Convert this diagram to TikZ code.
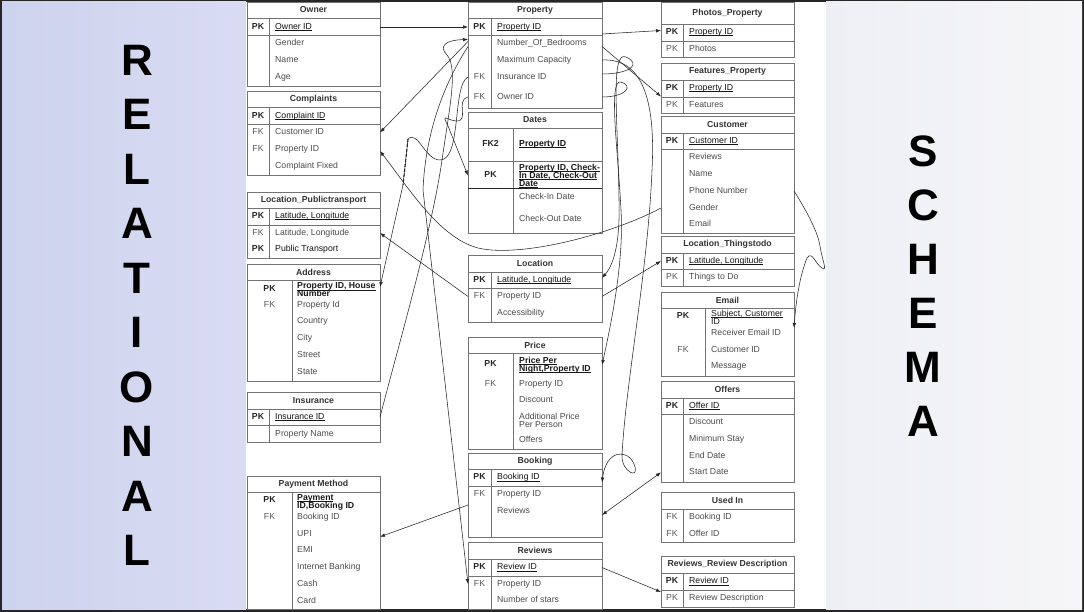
\documentclass[tikz,border=0pt]{standalone}
\usepackage{fontspec}
\setmainfont{Liberation Sans}
\usetikzlibrary{arrows.meta}
\newcommand{\tblfont}{\fontsize{8.7}{8}\selectfont\lineskiplimit=-6pt\relax}
\newcommand{\keyline}[1]{\setbox0\hbox{#1}\rlap{\rule[-1.3pt]{\wd0}{0.55pt}}\box0}
\definecolor{relleft}{HTML}{CDD2EE}
\definecolor{relright}{HTML}{D9DCF1}
\definecolor{schleft}{HTML}{EEEFF5}
\definecolor{schright}{HTML}{F6F6F8}

\begin{document}
\begin{tikzpicture}[x=1pt, y=-1pt, >={Latex[length=5pt,width=3.6pt]}]
        \tikzstyle{tbox} = [draw=black!55, line width=0.7pt, fill=white, anchor=north west, inner sep=0pt, outer sep=0pt]
        \tikzstyle{tbl} = [draw=black!55, line width=0.7pt]
        \tikzstyle{ttl} = [font=\tblfont\bfseries, text=black!80, inner sep=0pt]
        \tikzstyle{pkl} = [font=\tblfont\bfseries, text=black!85, inner sep=0pt, text height=6.2pt, text depth=1.7pt]
        \tikzstyle{fkl} = [font=\tblfont, text=black!65, inner sep=0pt, text height=6.2pt, text depth=1.7pt]
        \tikzstyle{attr} = [font=\tblfont, text=black!70, anchor=west, inner sep=0pt, text height=6.2pt, text depth=1.7pt]
        \tikzstyle{keyattr} = [attr, text=black!92]
        \tikzstyle{multi} = [font=\tblfont\bfseries, text=black!90, anchor=west, inner sep=0pt, align=left]
        \tikzstyle{multireg} = [multi, font=\tblfont]
        \tikzstyle{multiattr} = [multi, font=\tblfont, text=black!70]
        \tikzstyle{bigl} = [font=\fontsize{44}{44}\selectfont\bfseries, inner sep=0pt]
        \tikzstyle{blk} = [draw, black!85, line width=0.55pt]

        \useasboundingbox (0,0) rectangle (1084,612);

        % background panels
        \fill[black!85] (0,0) rectangle (1084,612);
        \shade[left color=relleft, right color=relright] (2,2) rectangle (246,609);
        \fill[white] (246,2) rectangle (826,609);
        \shade[left color=schleft, right color=schright] (826,2) rectangle (1082,609);

        \foreach \l [count=\i] in {R,E,L,A,T,I,O,N,A,L}
            \node[bigl] (rel\i) at (137,5.5+54.5*\i) {\l};
        \foreach \l [count=\i] in {S,C,H,E,M,A}
            \node[bigl] (sch\i) at (923,97.8+54*\i) {\l};

        % ---- left column ----
        % Owner
        \node[tbox, minimum width=133pt, minimum height=84pt] (owner) at (247,2) {};
        \draw[tbl] (247,18) -- (380,18) (247,35) -- (380,35) (269,18) -- (269,86);
        \node[ttl] (ownerttl) at (313.5,10) {Owner};
        \node[pkl] (ownerpk) at (258,27) {PK};
        \node[keyattr] (ownerid) at (275,27) {\keyline{Owner ID}};
        \foreach \t [count=\i] in {Gender,Name,Age}
            \node[attr] (owner\i) at (275,27+16.7*\i) {\t};

        % Complaints
        \node[tbox, minimum width=133pt, minimum height=84pt] (complaints) at (247,91) {};
        \draw[tbl] (247,107) -- (380,107) (247,124) -- (380,124) (269,107) -- (269,175);
        \node[ttl] (cmpttl) at (313.5,99) {Complaints};
        \node[pkl] (cmppk) at (258,116) {PK};
        \node[keyattr] (cmpid) at (275,116) {\keyline{Complaint ID}};
        \node[fkl] (cmpfk1) at (258,132.5) {FK};
        \node[attr] (cmpcust) at (275,132.5) {Customer ID};
        \node[fkl] (cmpfk2) at (258,149) {FK};
        \node[attr] (cmpprop) at (275,149) {Property ID};
        \node[attr] (cmpfixed) at (275,166) {Complaint Fixed};

        % Location_Publictransport
        \node[tbox, minimum width=133pt, minimum height=66pt] (lptrans) at (247,192) {};
        \draw[tbl] (247,208) -- (380,208) (247,225) -- (380,225) (269,208) -- (269,258);
        \node[ttl] (lpttl) at (313.5,200) {Location\_Publictransport};
        \node[pkl] (lppk) at (258,216.5) {PK};
        \node[keyattr] (lpid) at (275,216.5) {\keyline{Latitude, Longitude}};
        \node[fkl] (lpfkl) at (258,233) {FK};
        \node[attr] (lpfk) at (275,233) {Latitude, Longitude};
        \node[pkl] (lppk2) at (258,249.5) {PK};
        \node[keyattr] (lppt) at (275,249.5) {Public Transport};

        % Address
        \node[tbox, minimum width=133pt, minimum height=117pt] (address) at (247,264) {};
        \draw[tbl] (247,280) -- (380,280) (292,280) -- (292,381);
        \node[ttl] (addrttl) at (313.5,272) {Address};
        \node[pkl] (addrpkl) at (269.5,289) {PK};
        \node[multi] (addrpk) at (297,290) {\keyline{Property ID, House}\\Number};
        \node[fkl] (addrfkl) at (269.5,305) {FK};
        \node[attr] (addrprop) at (297,305) {Property Id};
        \foreach \t [count=\i] in {Country,City,Street,State}
            \node[attr] (addrrow\i) at (297,305+16.7*\i) {\t};

        % Insurance
        \node[tbox, minimum width=133pt, minimum height=50pt] (insurance) at (247,392) {};
        \draw[tbl] (247,409) -- (380,409) (247,425) -- (380,425) (269,409) -- (269,442);
        \node[ttl] (insttl) at (313.5,400.5) {Insurance};
        \node[pkl] (inspk) at (258,417) {PK};
        \node[keyattr] (insid) at (275,417) {\keyline{Insurance ID}};
        \node[attr] (insname) at (275,434) {Property Name};

        % Payment Method
        \node[tbox, minimum width=133pt, minimum height=133pt] (payment) at (247,476) {};
        \draw[tbl] (247,492) -- (380,492) (292,492) -- (292,609);
        \node[ttl] (payttl) at (313.5,484) {Payment Method};
        \node[pkl] (paypkl) at (269.5,500) {PK};
        \node[multi] (paypk) at (297,502) {\keyline{Payment}\\ID,Booking ID};
        \node[fkl] (payfkl) at (269.5,517) {FK};
        \node[attr] (paybook) at (297,517) {Booking ID};
        \foreach \t [count=\i] in {UPI,EMI,Internet Banking,Cash,Card}
            \node[attr] (payrow\i) at (297,517+16.8*\i) {\t};

        % ---- middle column ----
        % Property
        \node[tbox, minimum width=134pt, minimum height=106pt] (property) at (468,2) {};
        \draw[tbl] (468,18) -- (602,18) (468,35) -- (602,35) (491,18) -- (491,108);
        \node[ttl] (propttl) at (535,10) {Property};
        \node[pkl] (proppk) at (479.5,27) {PK};
        \node[keyattr] (propid) at (497,27) {\keyline{Property ID}};
        \node[attr] (propbed) at (497,43.5) {Number\_Of\_Bedrooms};
        \node[attr] (propcap) at (497,60) {Maximum Capacity};
        \node[fkl] (propfk1) at (479.5,77) {FK};
        \node[attr] (propins) at (497,77) {Insurance ID};
        \node[fkl] (propfk2) at (479.5,97) {FK};
        \node[attr] (propown) at (497,97) {Owner ID};

        % Dates
        \node[tbox, minimum width=134pt, minimum height=121pt] (dates) at (468,112) {};
        \draw[tbl] (468,128) -- (602,128) (468,161) -- (602,161) (513,128) -- (513,233);
        \draw[black!85, line width=1pt] (468,189) -- (602,189);
        \node[ttl] (datesttl) at (535,120) {Dates};
        \node[pkl] (datesfkl) at (490.5,144.5) {FK2};
        \node[keyattr, font=\tblfont\bfseries] (datesprop) at (519,144.5) {\keyline{Property ID}};
        \node[pkl] (datespkl) at (490.5,175) {PK};
        \node[multi] (datespk) at (519,175.5) {\keyline{Property ID, Check-}\\\keyline{In Date, Check-Out}\\\keyline{Date}};
        \node[attr] (datesin) at (519,197.5) {Check-In Date};
        \node[attr] (datesout) at (519,219) {Check-Out Date};

        % Location
        \node[tbox, minimum width=134pt, minimum height=67pt] (location) at (468,255) {};
        \draw[tbl] (468,272) -- (602,272) (468,288) -- (602,288) (491,272) -- (491,322);
        \node[ttl] (locttl) at (535,263.5) {Location};
        \node[pkl] (locpkl) at (479.5,280) {PK};
        \node[keyattr] (locpk) at (497,280) {\keyline{Latitude, Longitude}};
        \node[fkl] (locfkl) at (479.5,296.5) {FK};
        \node[attr] (locfk) at (497,296.5) {Property ID};
        \node[attr] (locacc) at (497,313) {Accessibility};

        % Price
        \node[tbox, minimum width=134pt, minimum height=112pt] (price) at (468,337) {};
        \draw[tbl] (468,353) -- (602,353) (513,353) -- (513,449);
        \node[ttl] (pricettl) at (535,345) {Price};
        \node[pkl] (pricepkl) at (490.5,364.5) {PK};
        \node[multi] (pricepk) at (519,365) {\keyline{Price Per}\\\keyline{Night,Property ID}};
        \node[fkl] (pricefkl) at (490.5,384) {FK};
        \node[attr] (priceprop) at (519,384) {Property ID};
        \node[attr] (pricedisc) at (519,400) {Discount};
        \node[multiattr] (priceadd) at (519,420) {Additional Price\\Per Person};
        \node[attr] (priceoff) at (519,440) {Offers};

        % Booking
        \node[tbox, minimum width=134pt, minimum height=84pt] (booking) at (468,453) {};
        \draw[tbl] (468,469) -- (602,469) (468,486) -- (602,486) (491,469) -- (491,537);
        \node[ttl] (bookttl) at (535,461) {Booking};
        \node[pkl] (bookpkl) at (479.5,477.5) {PK};
        \node[keyattr] (bookid) at (497,477.5) {\keyline{Booking ID}};
        \node[fkl] (bookfkl) at (479.5,494) {FK};
        \node[attr] (bookprop) at (497,494) {Property ID};
        \node[attr] (bookrev) at (497,511) {Reviews};

        % Reviews
        \node[tbox, minimum width=134pt, minimum height=67pt] (reviews) at (468,542) {};
        \draw[tbl] (468,559) -- (602,559) (468,576) -- (602,576) (491,559) -- (491,609);
        \node[ttl] (revttl) at (535,550.5) {Reviews};
        \node[pkl] (revpkl) at (479.5,567.5) {PK};
        \node[keyattr] (revid) at (497,567.5) {\keyline{Review ID}};
        \node[fkl] (revfkl) at (479.5,584) {FK};
        \node[attr] (revprop) at (497,584) {Property ID};
        \node[attr] (revstars) at (497,600.5) {Number of stars};

        % ---- right column ----
        % Photos_Property
        \node[tbox, minimum width=133pt, minimum height=55pt] (photos) at (661,2) {};
        \draw[tbl] (661,24) -- (794,24) (661,41) -- (794,41) (683,24) -- (683,57);
        \node[ttl] (photottl) at (727.5,13) {Photos\_Property};
        \node[pkl] (photopk) at (672,32.5) {PK};
        \node[keyattr] (photoid) at (689,32.5) {\keyline{Property ID}};
        \node[fkl] (photopk2) at (672,49) {PK};
        \node[attr] (photophotos) at (689,49) {Photos};

        % Features_Property
        \node[tbox, minimum width=133pt, minimum height=50pt] (features) at (661,63) {};
        \draw[tbl] (661,80) -- (794,80) (661,97) -- (794,97) (683,80) -- (683,113);
        \node[ttl] (featttl) at (727.5,71.5) {Features\_Property};
        \node[pkl] (featpk) at (672,88.5) {PK};
        \node[keyattr] (featid) at (689,88.5) {\keyline{Property ID}};
        \node[fkl] (featpk2) at (672,105) {PK};
        \node[attr] (featfeat) at (689,105) {Features};

        % Customer
        \node[tbox, minimum width=133pt, minimum height=117pt] (customer) at (661,116) {};
        \draw[tbl] (661,133) -- (794,133) (661,149) -- (794,149) (683,133) -- (683,233);
        \node[ttl] (custttl) at (727.5,124.5) {Customer};
        \node[pkl] (custpk) at (672,141) {PK};
        \node[keyattr] (custid) at (689,141) {\keyline{Customer ID}};
        \node[attr] (custrev) at (689,157.5) {Reviews};
        \node[attr] (custname) at (689,174.5) {Name};
        \node[attr] (custphone) at (689,191) {Phone Number};
        \node[attr] (custgender) at (689,208) {Gender};
        \node[attr] (custemail) at (689,224.5) {Email};

        % Location_Thingstodo
        \node[tbox, minimum width=133pt, minimum height=50pt] (thingstodo) at (661,236) {};
        \draw[tbl] (661,253) -- (794,253) (661,269) -- (794,269) (683,253) -- (683,286);
        \node[ttl] (ltttl) at (727.5,244.5) {Location\_Thingstodo};
        \node[pkl] (ltpkl) at (672,261) {PK};
        \node[keyattr] (ltpk) at (689,261) {\keyline{Latitude, Longitude}};
        \node[fkl] (ltpk2) at (672,277.5) {PK};
        \node[attr] (ltthings) at (689,277.5) {Things to Do};

        % Email
        \node[tbox, minimum width=133pt, minimum height=84pt] (email) at (661,292) {};
        \draw[tbl] (661,308) -- (794,308) (705,308) -- (705,376);
        \node[ttl] (emailttl) at (727.5,300) {Email};
        \node[pkl] (emailpkl) at (683,316.5) {PK};
        \node[multireg] (emailpk) at (711,317.5) {\keyline{Subject, Customer}\\ID};
        \node[attr] (emailrecv) at (711,333) {Receiver Email ID};
        \node[fkl] (emailfkl) at (683,350) {FK};
        \node[attr] (emailcust) at (711,350) {Customer ID};
        \node[attr] (emailmsg) at (711,366.5) {Message};

        % Offers
        \node[tbox, minimum width=133pt, minimum height=101pt] (offers) at (661,381) {};
        \draw[tbl] (661,398) -- (794,398) (661,414) -- (794,414) (683,398) -- (683,482);
        \node[ttl] (offttl) at (727.5,389.5) {Offers};
        \node[pkl] (offpk) at (672,406) {PK};
        \node[keyattr] (offid) at (689,406) {\keyline{Offer ID}};
        \foreach \t [count=\i] in {Discount,Minimum Stay,End Date,Start Date}
            \node[attr] (offrow\i) at (689,406+16.6*\i) {\t};

        % Used In
        \node[tbox, minimum width=133pt, minimum height=50pt] (usedin) at (661,492) {};
        \draw[tbl] (661,509) -- (794,509) (683,509) -- (683,542);
        \node[ttl] (usedttl) at (727.5,500.5) {Used In};
        \node[fkl] (usedfk1) at (672,517.5) {FK};
        \node[attr] (usedbook) at (689,517.5) {Booking ID};
        \node[fkl] (usedfk2) at (672,534) {FK};
        \node[attr] (usedoffer) at (689,534) {Offer ID};

        % Reviews_Review Description
        \node[tbox, minimum width=133pt, minimum height=51pt] (rrd) at (661,556) {};
        \draw[tbl] (661,573) -- (794,573) (661,590) -- (794,590) (683,573) -- (683,607);
        \node[ttl] (rrdttl) at (727.5,564.5) {Reviews\_Review Description};
        \node[pkl] (rrdpk) at (672,581.5) {PK};
        \node[keyattr] (rrdid) at (689,581.5) {\keyline{Review ID}};
        \node[fkl] (rrdpk2) at (672,598) {PK};
        \node[attr] (rrddesc) at (689,598) {Review Description};

        % ---- connectors ----
        \coordinate (dashtop) at (408,139);
        \coordinate (dashbot) at (403,185);

        \path[blk, ->] (ownerid -| owner.east) to (propid -| property.west);
        \path[blk, ->] ([yshift=2pt]propbed -| property.west) to (cmpcust -| complaints.east);
        \path[blk, ->] (insid -| insurance.east) .. controls (400,340) and (432,230) .. (442,160)
            .. controls (450,105) and (458,68) .. (447,55) .. controls (438,46) and (446,40) .. ([yshift=4pt]propbed -| property.west);
        \path[blk, ->] ([yshift=-3pt]propbed -| property.west) .. controls (440,90) and (425,140) .. (423,190)
            -- (revprop -| reviews.west);
        \path[blk, ->] (propins -| property.west) .. controls (452,85) and (462,160) .. (440,160)
            .. controls (425,160) and (418,130) .. (dashtop) -- (dashbot) -- ([yshift=3pt]addrpk -| address.east);
        \draw[densely dashed, line width=1.1pt, black!85] (dashtop) -- (dashbot);
        \path[blk, ->] (propown -| property.west) .. controls (455,100) and (470,122) .. (456,121)
            .. controls (446,120) and (441,112) .. (448,126) -- (datespk -| dates.west);
        \path[blk, ->] (locfk -| location.west) to (lpfk -| lptrans.east);
        \path[blk, ->] (custgender -| customer.west) .. controls (610,235) and (520,258) .. (478,248)
            .. controls (440,238) and (410,190) .. ([yshift=-2pt]cmpprop -| complaints.east);
        \path[blk, ->] ([yshift=-7pt]propid -| property.east) to ([yshift=2pt]photoid -| photos.west);
        \path[blk, ->] ([yshift=-3pt]propbed -| property.east) to ([yshift=-8pt]featid -| features.west);
        \path[blk, ->] ([yshift=3pt]propins -| property.east) .. controls (630,74) and (642,64) .. (626,57)
            .. controls (610,50) and (618,120) .. (619,200) .. controls (620,235) and (616,262) .. ([yshift=2pt]locpk -| location.east);
        \path[blk, ->] (propown -| property.east) .. controls (626,97) and (634,86) .. (621,82)
            .. controls (608,79) and (618,150) .. (621,210) .. controls (624,260) and (612,320) .. (pricepk -| price.east);
        \path[blk, ->] (propcap -| property.east) .. controls (640,58) and (656,95) .. (652,170)
            .. controls (648,270) and (626,380) .. (622,455) .. controls (621,472) and (641,481) .. (634,464)
            .. controls (627,448) and (606,450) .. ([yshift=-5pt]bookid -| booking.east);
        \path[blk, ->] (locfk -| location.east) to (ltpk -| thingstodo.west);
        \path[blk, <->] ([yshift=-4pt]bookrev -| booking.east) to (offrow4 -| offers.west);
        \path[blk, ->] (revid -| reviews.east) to ([yshift=6pt]rrddesc -| rrd.west);
        \path[blk, ->] ([yshift=-11pt]bookprop -| booking.west) to ([yshift=-3pt]payrow1 -| payment.east);
        \path[blk, ->] (custphone -| customer.east) .. controls (806,210) and (818,232) .. (820,246)
            .. controls (822,260) and (828,272) .. (822,268) .. controls (816,265) and (812,250) .. (807,258)
            .. controls (800,275) and (796,300) .. ([yshift=5pt]emailrecv -| email.east);
    \end{tikzpicture}
\end{document}
